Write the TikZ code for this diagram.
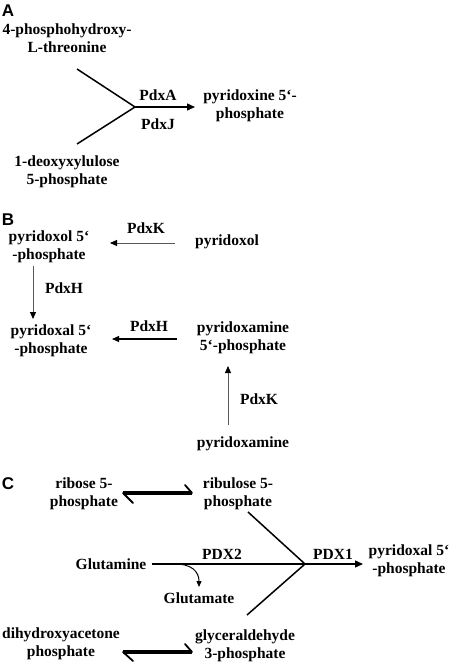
\documentclass[tikz,border=0pt]{standalone}
\usepackage{fontspec}
\setmainfont{Liberation Serif}
\setsansfont{Liberation Sans}
\usetikzlibrary{arrows.meta}
\begin{document}
\begin{tikzpicture}[x=1pt,y=-1pt,
  txt/.style={inner sep=0pt,align=center,font=\fontsize{15.5}{18}\selectfont\bfseries},
  panel/.style={inner sep=0pt,font=\fontsize{17}{18}\selectfont\sffamily\bfseries},
  bigarrow/.style={line width=1.4pt,-{Triangle[length=8pt,width=7pt]}},
  thinarrow/.style={draw=black!65,line width=0.9pt,-{Triangle[length=7pt,width=6pt,fill=black,color=black]}},
  darkarrow/.style={line width=1.1pt,-{Triangle[length=7pt,width=6pt]}},
  reactline/.style={line width=1.5pt},
  eqline/.style={line width=3.4pt},
  barb/.style={line width=1.8pt,line cap=round},
  smallarrow/.style={line width=1pt,-{Triangle[length=6pt,width=5pt]}}]
\useasboundingbox (0,0) rectangle (450,663);
\fill[white] (0,0) rectangle (450,663);

% ---------- Panel A ----------
\node[panel] (labA) at (8,11) {A};
\node[txt] (a1) at (67,38) {4-phosphohydroxy-\\L-threonine};
\node[txt] (a2) at (67,172) {1-deoxyxylulose\\5-phosphate};
\node[txt] (a3) at (250,106) {pyridoxine 5‘-\\phosphate};
\node[txt] (pdxA) at (158,95) {PdxA};
\node[txt] (pdxJ) at (158,124) {PdxJ};
\coordinate (a1e) at (77,69);
\coordinate (a2e) at (77,144);
\coordinate (jA) at (135,107);
\coordinate (a3w) at (195,107);
\draw[reactline] (a1e) -- (jA);
\draw[reactline] (a2e) -- (jA);
\draw[bigarrow] (jA) -- (a3w);

% ---------- Panel B ----------
\node[panel] (labB) at (8,220) {B};
\node[txt] (b1) at (49,246.5) {pyridoxol 5‘\\-phosphate};
\node[txt] (b2) at (227,242) {pyridoxol};
\node[txt] (b3) at (51,341) {pyridoxal 5‘\\-phosphate};
\node[txt] (b4) at (243,338) {pyridoxamine\\5‘-phosphate};
\node[txt] (b5) at (243,444) {pyridoxamine};
\node[txt] (pdxK1) at (146,228) {PdxK};
\node[txt] (pdxH1) at (64,288) {PdxH};
\node[txt] (pdxH2) at (149,326) {PdxH};
\node[txt] (pdxK2) at (259,399) {PdxK};
\coordinate (b2w) at (175,243);
\coordinate (b1e) at (110,243);
\coordinate (b1s) at (33,266);
\coordinate (b3n) at (33,319);
\coordinate (b4w) at (177,339);
\coordinate (b3e) at (112,339);
\coordinate (b5n) at (228,425);
\coordinate (b4s) at (228,366);
\draw[thinarrow] (b2w) -- (b1e);
\draw[thinarrow] (b1s) -- (b3n);
\draw[darkarrow] (b4w) -- (b3e);
\draw[thinarrow] (b5n) -- (b4s);

% ---------- Panel C ----------
\node[panel] (labC) at (8,484) {C};
\node[txt] (c1) at (84,494) {ribose 5-\\phosphate};
\node[txt] (c2) at (238,494) {ribulose 5-\\phosphate};
\node[txt] (c3) at (111,564) {Glutamine};
\node[txt] (c4) at (199,598) {Glutamate};
\node[txt] (c5) at (409,561) {pyridoxal 5‘\\-phosphate};
\node[txt] (c6) at (61,644) {dihydroxyacetone\\phosphate};
\node[txt] (c7) at (245,646) {glyceraldehyde\\3-phosphate};
\node[txt] (pdx2) at (222,554) {PDX2};
\node[txt] (pdx1) at (333,554) {PDX1};
% equilibrium arrows
\coordinate (e1l) at (123,493);
\coordinate (e1r) at (192,493);
\draw[eqline] (e1l) -- (e1r);
\draw[barb] (e1r) -- ++(-7,-8);
\draw[barb] (e1l) -- ++(10,10);
\coordinate (e2l) at (123,652);
\coordinate (e2r) at (192,652);
\draw[eqline] (e2l) -- (e2r);
\draw[barb] (e2r) -- ++(-7,-8);
\draw[barb] (e2l) -- ++(10,9);
% reaction
\coordinate (jC) at (305,564);
\coordinate (c2s) at (248,512);
\coordinate (c7n) at (247,615);
\coordinate (c5w) at (363,564);
\coordinate (gs) at (172,564);
\coordinate (c4n) at (199,587);
\draw[reactline] (c2s) -- (jC);
\draw[reactline] (c7n) -- (jC);
\draw[reactline,shorten <=5pt] (c3.east) -- (jC);
\draw[bigarrow] (jC) -- (c5w);
\draw[smallarrow] (gs) .. controls (192,563) and (199,572) .. (c4n);
\end{tikzpicture}
\end{document}
